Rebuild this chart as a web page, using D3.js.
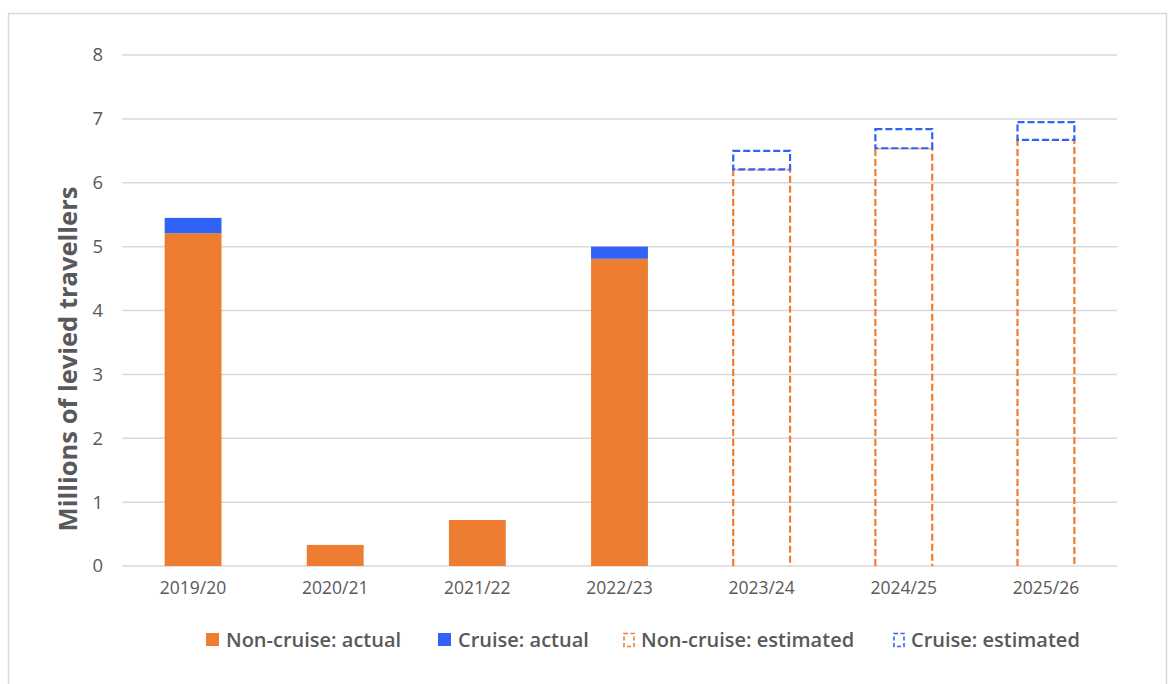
<!DOCTYPE html>
<html>
<head>
<meta charset="utf-8">
<script src="https://cdn.jsdelivr.net/npm/d3@7"></script>
<style>
  html, body { margin: 0; padding: 0; background: #fff; }
  svg { display: block; font-family: "Open Sans", "Noto Sans", sans-serif; }
</style>
</head>
<body>
<svg id="chart" width="1170" height="684"></svg>
<script>
// Levied travellers by financial year (millions)
const years = ["2019/20", "2020/21", "2021/22", "2022/23", "2023/24", "2024/25", "2025/26"];
const nonCruise = [5.21, 0.33, 0.72, 4.81, 6.21, 6.54, 6.67];
const cruise    = [0.24, 0.00, 0.00, 0.19, 0.29, 0.30, 0.28];
const estimated = [false, false, false, false, true, true, true];
const yTicks = [0, 1, 2, 3, 4, 5, 6, 7, 8];
const legendItems = [
  { label: "Non-cruise: actual",    color: "#ED7D31", dashed: false },
  { label: "Cruise: actual",        color: "#2F62F5", dashed: false },
  { label: "Non-cruise: estimated", color: "#ED7D31", dashed: true },
  { label: "Cruise: estimated",     color: "#2F62F5", dashed: true }
];

const colNon = "#ED7D31", colCruise = "#2F62F5", gridCol = "#d9d9d9", textCol = "#595959";

const svg = d3.select("#chart");

// outer frame
svg.append("rect").attr("x", 8.5).attr("y", 13.5).attr("width", 1158).attr("height", 680)
  .attr("fill", "none").attr("stroke", gridCol).attr("stroke-width", 1.5);

const plot = { left: 122, right: 1117, top: 55, bottom: 566 };

const x = d3.scaleBand().domain(years).range([plot.left, plot.right]).paddingInner(0.6).paddingOuter(0.3);
const y = d3.scaleLinear().domain([0, 8]).range([plot.bottom, plot.top]);

// gridlines
svg.append("g").selectAll("line").data(yTicks).join("line")
  .attr("x1", plot.left).attr("x2", plot.right)
  .attr("y1", d => y(d)).attr("y2", d => y(d))
  .attr("stroke", gridCol).attr("stroke-width", 1.5);

// y tick labels
svg.append("g").selectAll("text").data(yTicks).join("text")
  .attr("x", 103).attr("y", d => y(d)).attr("dy", "0.35em")
  .attr("text-anchor", "end").attr("fill", textCol).attr("font-size", 18.5)
  .text(d => d);

// x labels
svg.append("g").selectAll("text").data(years).join("text")
  .attr("x", d => x(d) + x.bandwidth() / 2).attr("y", 594)
  .attr("text-anchor", "middle").attr("fill", textCol).attr("font-size", 17.5)
  .text(d => d);

// y axis title
svg.append("text")
  .attr("transform", `translate(77, 359) rotate(-90)`)
  .attr("text-anchor", "middle").attr("fill", textCol)
  .attr("font-size", 25.5).attr("font-weight", "bold")
  .text("Millions of levied travellers");

const rows = years.map((yr, i) => ({ yr, non: nonCruise[i], cr: cruise[i], est: estimated[i] }));
const bars = svg.append("g");

// actual bars: solid stacks
rows.filter(d => !d.est).forEach(d => {
  bars.append("rect").attr("x", x(d.yr)).attr("width", x.bandwidth())
    .attr("y", y(d.non)).attr("height", y(0) - y(d.non)).attr("fill", colNon);
  if (d.cr > 0) {
    bars.append("rect").attr("x", x(d.yr)).attr("width", x.bandwidth())
      .attr("y", y(d.non + d.cr)).attr("height", y(d.non) - y(d.non + d.cr)).attr("fill", colCruise);
  }
});

// estimated bars: dashed outlines (open at the baseline for the lower segment)
function openBox(x0, x1, yTop, yBot) {
  const p = d3.path();
  p.moveTo(x0, yBot); p.lineTo(x0, yTop); p.lineTo(x1, yTop); p.lineTo(x1, yBot);
  return p.toString();
}
rows.filter(d => d.est).forEach(d => {
  const x0 = x(d.yr), x1 = x(d.yr) + x.bandwidth();
  bars.append("path").attr("d", openBox(x0, x1, y(d.non), y(0)))
    .attr("fill", "none").attr("stroke", colNon).attr("stroke-width", 2.2).attr("stroke-dasharray", "7,3");
  bars.append("rect").attr("x", x0).attr("width", x.bandwidth())
    .attr("y", y(d.non + d.cr)).attr("height", y(d.non) - y(d.non + d.cr))
    .attr("fill", "#fff").attr("stroke", colCruise).attr("stroke-width", 2.2).attr("stroke-dasharray", "7,3");
});

// legend
const legendX = [206, 438, 623, 893];
const lg = svg.append("g");
legendItems.forEach((it, i) => {
  const g = lg.append("g").attr("transform", `translate(${legendX[i]}, 633)`);
  if (it.dashed) {
    g.append("rect").attr("x", 1).attr("y", 0.5).attr("width", 10).attr("height", 13)
      .attr("fill", "none").attr("stroke", it.color).attr("stroke-width", 1.6).attr("stroke-dasharray", "4,2.5");
  } else {
    g.append("rect").attr("x", 0).attr("y", 0).attr("width", 13).attr("height", 13).attr("fill", it.color);
  }
  g.append("text").attr("x", it.dashed ? 18 : 20).attr("y", 7).attr("dy", "0.35em")
    .attr("fill", textCol).attr("font-size", 20).attr("font-weight", 600).text(it.label);
});
</script>
</body>
</html>
